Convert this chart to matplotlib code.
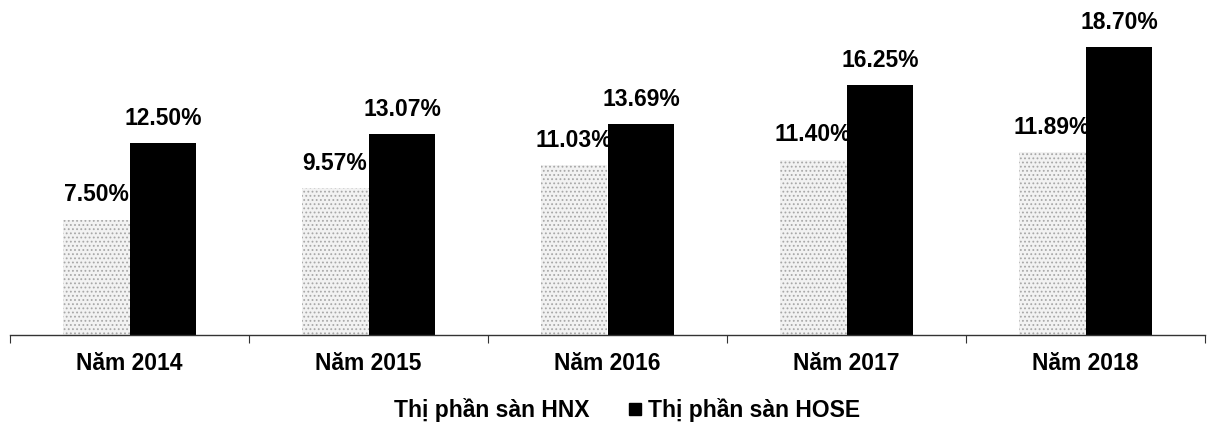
import matplotlib
matplotlib.use("Agg")
import matplotlib.pyplot as plt
from matplotlib.lines import Line2D
import numpy as np

categories = ["Năm 2014", "Năm 2015", "Năm 2016", "Năm 2017", "Năm 2018"]
hnx = [7.50, 9.57, 11.03, 11.40, 11.89]
hose = [12.50, 13.07, 13.69, 16.25, 18.70]
series_names = ["Thị phần sàn HNX", "Thị phần sàn HOSE"]

plt.rcParams['font.family'] = ['Liberation Sans', 'DejaVu Sans']
plt.rcParams['hatch.linewidth'] = 0.8

fig = plt.figure(figsize=(12.15, 4.32), dpi=100)
ax = fig.add_axes([10/1215, 97/432, 1195/1215, 323/432])

x = np.arange(len(categories))
w = 0.28
b1 = ax.bar(x - w/2, hnx, w, color='#f2f2f2', edgecolor='#a8a8a8', linewidth=0, hatch='....')
b2 = ax.bar(x + w/2, hose, w, color='black', edgecolor='none')

fs = 16.5
for xi, v in zip(x, hnx):
    ax.annotate(f"{v:.2f}%", (xi - w/2, v), xytext=(0, 9.5), textcoords='offset points',
                ha='center', va='bottom', fontsize=fs, fontweight='bold', color='black')
for xi, v in zip(x, hose):
    ax.annotate(f"{v:.2f}%", (xi + w/2, v), xytext=(0, 9.5), textcoords='offset points',
                ha='center', va='bottom', fontsize=fs, fontweight='bold', color='black')

ax.set_xlim(-0.5, len(categories) - 0.5)
ax.set_ylim(0, 21)
for s in ['top', 'right', 'left']:
    ax.spines[s].set_visible(False)
ax.spines['bottom'].set_color('#333333')
ax.spines['bottom'].set_linewidth(1.0)
ax.set_yticks([])
ax.set_xticks(np.arange(-0.5, len(categories), 1.0))
ax.set_xticklabels([])
ax.set_xticks(x, minor=True)
ax.set_xticklabels(categories, minor=True, fontsize=fs, fontweight='bold')
ax.tick_params(axis='x', which='major', length=6, color='#333333', direction='out')
ax.tick_params(axis='x', which='minor', length=0, pad=12)

handles = [Line2D([], [], marker='s', linestyle='none', markersize=8, color='white'),
           Line2D([], [], marker='s', linestyle='none', markersize=8, color='black')]
fig.legend(handles, series_names, loc='center', bbox_to_anchor=(0.5 + 10/1215, 22/432), ncol=2,
           frameon=False, prop={'size': fs, 'weight': 'bold'}, handlelength=0.55,
           handletextpad=0.3, columnspacing=1.7)

fig.savefig("out.png", dpi=100)
